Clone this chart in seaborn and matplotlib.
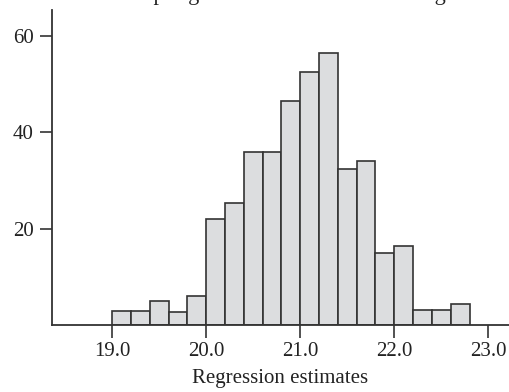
import numpy as np
import pandas as pd
import matplotlib.pyplot as plt
import seaborn as sns

# ── Data ──────────────────────────────────────────────────────────────
bin_edges = [19.0, 19.2, 19.4, 19.6, 19.8, 20.0, 20.2, 20.4, 20.6, 20.8,
             21.0, 21.2, 21.4, 21.6, 21.8, 22.0, 22.2, 22.4, 22.6, 22.8]
counts = [3, 3, 5, 2.6, 6, 22, 25.3, 36, 36, 46.5,
          52.6, 56.5, 32.4, 34, 15, 16.3, 3.1, 3.1, 4.4]
x_ticks = [19.0, 20.0, 21.0, 22.0, 23.0]
y_ticks = [20, 40, 60]

title = "Sampling distribution of the OLS regression estimates"
x_label = "Regression estimates"

# ── Style ─────────────────────────────────────────────────────────────
sns.set_style("ticks")
plt.rcParams["font.family"] = ["Liberation Serif", "DejaVu Serif"]
plt.rcParams["font.size"] = 15

edge = "#333333"
fill = "#dcdddf"
text_c = "#222222"

centers = [(a + b) / 2 for a, b in zip(bin_edges[:-1], bin_edges[1:])]
df = pd.DataFrame({"estimate": centers, "count": counts})

fig = plt.figure(figsize=(5.09, 3.92), dpi=100)
ax = fig.add_axes([52 / 509, 67 / 392, 457 / 509, 315 / 392])

sns.histplot(data=df, x="estimate", weights="count", bins=bin_edges,
             color=fill, edgecolor=edge, linewidth=1.2, alpha=1.0, ax=ax)

ax.set_xlim(18.36, 23.22)
ax.set_ylim(0, 65.4)
ax.set_xticks(x_ticks)
ax.set_xticklabels([f"{t:.1f}" for t in x_ticks])
ax.set_yticks(y_ticks)
ax.set_xlabel(x_label, fontsize=15, labelpad=6, color=text_c)
ax.set_ylabel("")

for side in ("top", "right"):
    ax.spines[side].set_visible(False)
for side in ("left", "bottom"):
    ax.spines[side].set_color(edge)
    ax.spines[side].set_linewidth(1.3)
ax.tick_params(direction="out", length=9, width=1.2, color=edge,
               labelsize=15, labelcolor=text_c, pad=3)
ax.tick_params(axis="y", pad=4)

# title sits mostly above the frame; only its descenders show
fig.text(113.7 / 509, 1.0, title, ha="left", va="baseline",
         fontsize=16, color=text_c)

fig.savefig("out.png", dpi=100)
